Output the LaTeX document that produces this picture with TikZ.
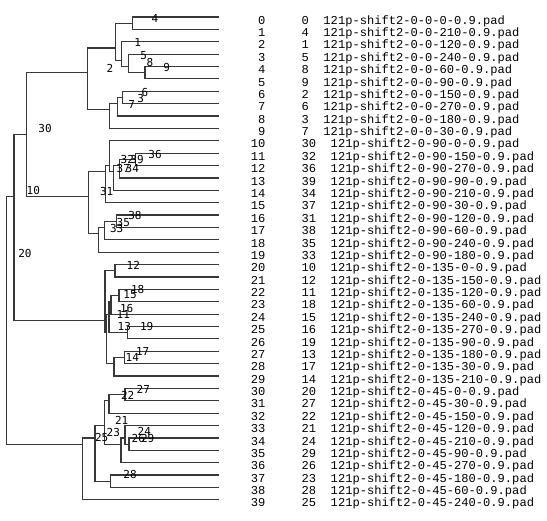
\documentclass[tikz,border=0pt]{standalone}
\usepackage{fontspec}
\newfontfamily\colfont{Liberation Mono}
\newfontfamily\labfont{DejaVu Sans Mono}
\tikzset{
  branch/.style={draw=black!78, line width=1.2pt},
  tlabel/.style={font=\labfont\fontsize{11}{11}\selectfont, inner sep=0pt},
  rowtext/.style={font=\colfont\fontsize{12.1}{12.1}\selectfont, inner sep=0pt},
}
\begin{document}
\begin{tikzpicture}[x=1pt, y=-12.38pt]
    \useasboundingbox (0,-1.373) rectangle (547,40.71);
    % Leaves and listing
    \foreach \n/\g/\a [count=\i from 0] in {0/0/0, 4/0/210, 1/0/120, 5/0/240, 8/0/60, 9/0/90, 2/0/150, 6/0/270, 3/0/180, 7/0/30,
        30/90/0, 32/90/150, 36/90/270, 39/90/90, 34/90/210, 37/90/30, 31/90/120, 38/90/60, 35/90/240, 33/90/180,
        10/135/0, 12/135/150, 11/135/120, 18/135/60, 15/135/240, 16/135/270, 19/135/90, 13/135/180, 17/135/30, 14/135/210,
        20/45/0, 27/45/30, 22/45/150, 21/45/120, 24/45/210, 29/45/90, 26/45/270, 23/45/180, 28/45/60, 25/45/240} {
        \coordinate (L\i) at (219,\i);
        \node[rowtext, anchor=base east] (idx\i) at (265.5,\i+0.58) {\i};
        \node[rowtext, anchor=base west] (file\i) at (301.5,\i+0.58) {\n\ \ 121p-shift2-0-\g-\a-0.9.pad};
    }

    % Cluster points
    \foreach \c/\x/\y in {a45/145/4.5, a345/128.3/4, a2345/121.7/3.5, a01/132.7/0.5, a05/115.7/2.5,
        a67/122.3/6.5, a68/117.7/7, a69/109.3/7.5, a09/87.7/4.5,
        b1112/135.7/11.5, b1113/119.3/12, b1114/113.3/12.5, b1014/109.3/12, b1015/105.5/12.5,
        b1617/116.7/16.5, b1618/104.3/17, b1619/98.3/17.5, b1019/88.3/14.5, t019/26.7/9.5,
        c2021/115/20.5, c2223/119/22.5, c2224/111/23, c2526/127.7/25.5, c2226/109/24, c2229/106.6/25.5,
        c2728/124.3/27.5, c2729/114/28, c2029/105/24.5, t029/14/14.5,
        d3031/125/30.5, d3032/109/31, d3435/129/34.5, d3335/125/34, d3336/121/34.5, d3036/104.3/33,
        d3738/110.7/37.5, d3038/95/34, d3039/82.7/34.5, root/6.7/19.5}
        \coordinate (\c) at (\x,\y);

    % Branches
    \foreach \c/\a/\b in {a45/L4/L5, a345/L3/a45, a2345/L2/a345, a01/L0/L1, a05/a01/a2345,
        a67/L6/L7, a68/a67/L8, a69/a68/L9, a09/a05/a69,
        b1112/L11/L12, b1113/b1112/L13, b1114/b1113/L14, b1014/L10/b1114, b1015/b1014/L15,
        b1617/L16/L17, b1618/b1617/L18, b1619/b1618/L19, b1019/b1015/b1619, t019/a09/b1019,
        c2021/L20/L21, c2223/L22/L23, c2224/c2223/L24, c2526/L25/L26, c2226/c2224/c2526,
        c2728/L27/L28, c2729/c2728/L29, c2229/c2226/c2729, c2029/c2021/c2229, t029/t019/c2029,
        d3031/L30/L31, d3032/d3031/L32, d3435/L34/L35, d3335/L33/d3435, d3336/d3335/L36, d3036/d3032/d3336,
        d3738/L37/L38, d3038/d3036/d3738, d3039/d3038/L39, root/t029/d3039}
        \draw[branch] (\a) -| (\c) |- (\b);

    % Tree labels
    \foreach \t/\x/\y in {4/155/0.16, 1/137.7/2.08, 5/143.7/3.13, 8/150/3.66, 9/166.7/4.10, 2/110/4.14,
        6/145/6.08, 3/140.7/6.62, 7/131.7/7.05, 30/45/8.99,
        36/155/11.07, 32/127.3/11.49, 39/137/11.49, 37/123.3/12.22, 34/132.3/12.22, 31/106.7/14.11,
        38/135/16.05, 35/123.3/16.58, 33/116.7/17.07, 10/33.3/14.05,
        12/133.3/20.09, 18/137.7/22.05, 15/130/22.46, 16/126.7/23.53, 11/123.3/23.99, 13/124.3/25.02,
        19/146.7/25.02, 17/142.7/27.04, 14/132.3/27.49, 20/25/19.09,
        27/143.3/30.05, 22/127.7/30.59, 21/121.7/32.55, 23/113.3/33.55, 25/101.7/33.98, 24/144.3/33.44,
        26/138.3/34.03, 29/147.7/34.03, 28/130/36.94}
        \node[tlabel] (lab\t) at (\x,\y) {\t};
\end{tikzpicture}
\end{document}
